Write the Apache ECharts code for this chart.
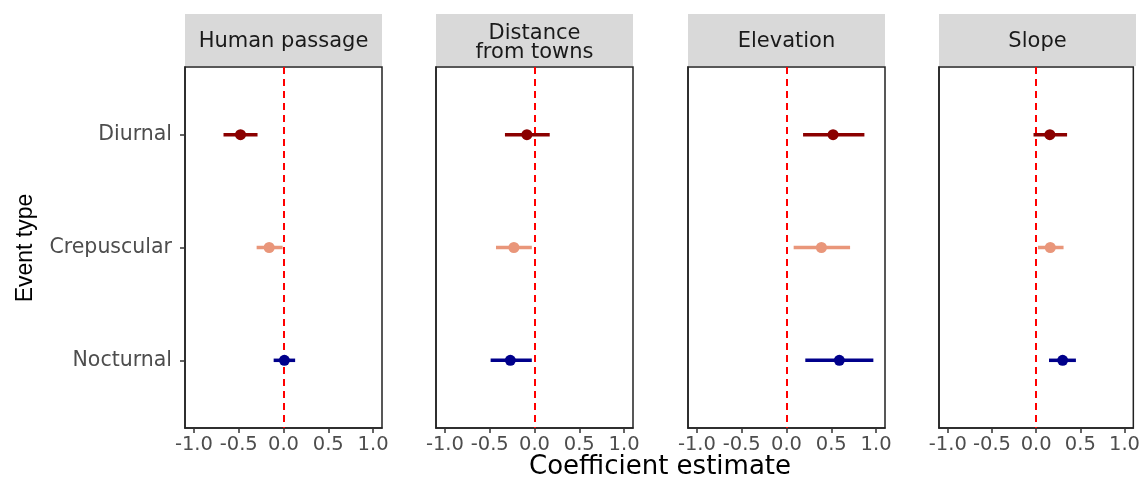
<!DOCTYPE html>
<html>
<head>
<meta charset="utf-8">
<script src="https://cdn.jsdelivr.net/npm/echarts@6/dist/echarts.min.js"></script>
<style>html,body{margin:0;padding:0;background:#fff}#c{width:1143px;height:479px}</style>
</head>
<body>
<div id="c"></div>
<script>
// ---- data ----
const panels = ['Human passage', 'Distance\nfrom towns', 'Elevation', 'Slope'];
const eventTypes = ['Diurnal', 'Crepuscular', 'Nocturnal'];
const eventColors = ['#8B0000', '#E9967A', '#00008B'];
const xTicks = [-1.0, -0.5, 0.0, 0.5, 1.0];
// estimates per panel, order: Diurnal, Crepuscular, Nocturnal
const humanEst = [-0.48, -0.16, 0.01];
const humanLo  = [-0.67, -0.30, -0.11];
const humanHi  = [-0.29, -0.01, 0.13];
const distEst  = [-0.085, -0.23, -0.27];
const distLo   = [-0.33, -0.43, -0.49];
const distHi   = [0.17, -0.03, -0.03];
const elevEst  = [0.52, 0.39, 0.59];
const elevLo   = [0.185, 0.08, 0.21];
const elevHi   = [0.87, 0.71, 0.97];
const slopeEst = [0.155, 0.16, 0.30];
const slopeLo  = [-0.03, 0.02, 0.145];
const slopeHi  = [0.35, 0.31, 0.45];
const estimates = [humanEst, distEst, elevEst, slopeEst];
const lows = [humanLo, distLo, elevLo, slopeLo];
const highs = [humanHi, distHi, elevHi, slopeHi];

// ---- layout ----
const FONT = 'DejaVu Sans';
const gLeft0 = 185, gStep = 251.3, gWidth = 197, gTop = 67, gHeight = 361;

const chart = echarts.init(document.getElementById('c'), null, {renderer: 'canvas'});
const grids = [], xAxes = [], yAxes = [], series = [], graphics = [];

panels.forEach((name, i) => {
  const left = Math.round(gLeft0 + i * gStep);
  grids.push({left: left, top: gTop, width: gWidth, height: gHeight,
    show: true, borderColor: '#222', borderWidth: 1.5, backgroundColor: '#fff', containLabel: false});
  xAxes.push({
    type: 'value', gridIndex: i, min: -1.1, max: 1.1,
    splitLine: {show: false},
    axisLine: {show: true, onZero: false, lineStyle: {color: '#222', width: 1.5}},
    axisTick: {show: true, customValues: xTicks, length: 5, lineStyle: {color: '#333', width: 1.5}},
    axisLabel: {customValues: xTicks, formatter: v => Number(v).toFixed(1), fontSize: 19.5,
      fontFamily: FONT, color: '#4D4D4D', margin: 7}
  });
  yAxes.push({
    type: 'value', gridIndex: i, min: 0.4, max: 3.6, inverse: true,
    splitLine: {show: false},
    axisLine: {show: true, onZero: false, lineStyle: {color: '#222', width: 1.5}},
    axisTick: {show: i === 0, customValues: [1, 2, 3], length: 5, lineStyle: {color: '#333', width: 1.5}},
    axisLabel: {show: i === 0, customValues: [1, 2, 3], formatter: v => eventTypes[Math.round(v) - 1] || '',
      fontSize: 20.5, fontFamily: FONT, color: '#4D4D4D', margin: 13}
  });
  // zero reference line (drawn beneath marks)
  series.push({
    type: 'scatter', xAxisIndex: i, yAxisIndex: i, z: 1, data: [],
    markLine: {silent: true, symbol: ['none', 'none'], label: {show: false},
      lineStyle: {color: '#FF0000', type: [7, 5], width: 2}, data: [{xAxis: 0}]}
  });
  const barData = eventTypes.map((t, k) => [lows[i][k], highs[i][k], k + 1, k]);
  series.push({
    type: 'custom', xAxisIndex: i, yAxisIndex: i, zlevel: 1, z: 2,
    encode: {x: [0, 1], y: 2},
    data: barData,
    renderItem: (params, api) => {
      const a = api.coord([api.value(0), api.value(2)]);
      const b = api.coord([api.value(1), api.value(2)]);
      return {type: 'line', shape: {x1: a[0], y1: a[1], x2: b[0], y2: b[1]},
        style: {stroke: eventColors[api.value(3)], lineWidth: 3.5}};
    }
  });
  series.push({
    type: 'scatter', xAxisIndex: i, yAxisIndex: i, zlevel: 1, z: 3, symbolSize: 11,
    data: eventTypes.map((t, k) => ({value: [estimates[i][k], k + 1], itemStyle: {color: eventColors[k], opacity: 1}}))
  });
  // strip
  graphics.push({type: 'rect', shape: {x: left, y: 14, width: gWidth, height: 52},
    style: {fill: '#D9D9D9'}, silent: true});
  graphics.push({type: 'text', x: left + gWidth / 2, y: name.includes('\n') ? 43 : 42,
    style: {text: name, fill: '#1A1A1A', font: '21px ' + FONT, align: 'center',
      verticalAlign: 'middle', lineHeight: 19}, silent: true});
});

graphics.push({type: 'text', x: 660, y: 467, style: {text: 'Coefficient estimate', fill: '#000',
  font: '26px ' + FONT, align: 'center', verticalAlign: 'middle'}, silent: true});
graphics.push({type: 'text', x: 26, y: 248, rotation: Math.PI / 2, style: {text: 'Event type', fill: '#000',
  font: '23px "Liberation Sans"', align: 'center', verticalAlign: 'middle'}, silent: true});

chart.setOption({
  animation: false,
  backgroundColor: '#fff',
  grid: grids, xAxis: xAxes, yAxis: yAxes, series: series, graphic: graphics
});
</script>
</body>
</html>
